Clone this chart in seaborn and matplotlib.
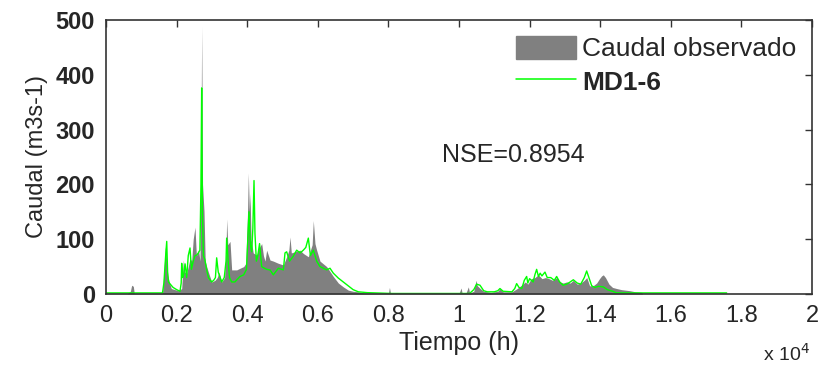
import numpy as np
import pandas as pd
import matplotlib
matplotlib.use("Agg")
import matplotlib.pyplot as plt
import seaborn as sns
from matplotlib.patches import Patch
from matplotlib.lines import Line2D

obs_time = [0, 600, 690, 727, 774, 800, 1600, 1640, 1680, 1720, 1750, 1800, 1850, 1950, 2050, 2100,
            2144, 2191, 2230, 2285, 2330, 2380, 2427, 2470, 2521, 2560, 2620, 2663, 2690, 2710, 2735,
            2776, 2810, 2852, 2900, 2993, 3088, 3150, 3200, 3277, 3360, 3400, 3418, 3450, 3513, 3560,
            3702, 3796, 3900, 3960, 4010, 4032, 4060, 4080, 4110, 4170, 4268, 4350, 4410, 4460, 4504,
            4551, 4646, 4740, 4882, 5024, 5118, 5180, 5213, 5250, 5401, 5496, 5590, 5732, 5840, 5873,
            5920, 5968, 6062, 6251, 6346, 6440, 6582, 6723, 6865, 7000, 7148, 7300, 7600, 8000, 8030,
            8060, 8500, 9100, 9130, 10000, 10060, 10090, 10200, 10265, 10300, 10420, 10482, 10520,
            10600, 10700, 10900, 11100, 11160, 11250, 11500, 11650, 11750, 11880, 11950, 12050, 12150,
            12250, 12350, 12450, 12550, 12650, 12770, 12870, 12950, 13050, 13150, 13240, 13350, 13450,
            13550, 13620, 13700, 13800, 13900, 13980, 14040, 14089, 14150, 14250, 14350, 14467, 14600,
            14844, 15000, 15175, 15200, 20000]
obs_flow = [0.5, 0.5, 5, 16, 14, 1, 1, 40, 86, 60, 34, 20, 10, 8, 6, 8,
            10, 62, 40, 38, 50, 65, 60, 100, 122, 70, 80, 60, 250, 489, 200,
            151, 60, 50, 40, 22, 25, 30, 40, 22, 30, 80, 137, 90, 96, 44,
            44, 47, 50, 56, 150, 221, 150, 184, 100, 75, 71, 85, 92, 70, 60,
            80, 62, 60, 56, 53, 68, 80, 104, 75, 78, 80, 74, 68, 90, 134,
            92, 80, 60, 50, 41, 32, 20, 13, 7, 5, 4, 2, 1.5, 1, 12,
            1, 1, 2, 1, 1, 11, 1, 2, 13, 2, 5, 25, 15,
            10, 5, 3, 5, 10, 4, 4, 10, 15, 22, 18, 28, 30,
            35, 28, 30, 28, 25, 30, 22, 20, 22, 20, 25, 18, 20,
            25, 30, 15, 15, 20, 28, 33, 35, 30, 18, 12, 10, 8,
            6, 4, 3, 0, 0]

# simulated discharge, model MD1-6
sim_time = [0, 1600, 1640, 1690, 1720, 1745, 1770, 1820, 1900, 2000, 2096, 2130, 2144, 2170, 2200,
            2240, 2285, 2330, 2380, 2420, 2470, 2521, 2569, 2616, 2660, 2690, 2710, 2730, 2760, 2800,
            2852, 2900, 2993, 3050, 3100, 3135, 3180, 3277, 3350, 3400, 3418, 3460, 3500, 3560, 3650,
            3796, 3900, 3980, 4050, 4090, 4127, 4160, 4193, 4220, 4260, 4300, 4350, 4410, 4460, 4551,
            4646, 4740, 4882, 5024, 5071, 5118, 5200, 5307, 5401, 5500, 5590, 5660, 5732, 5790, 5873,
            5968, 6062, 6251, 6346, 6440, 6582, 6723, 6865, 7000, 7148, 7400, 8100, 10300, 10420,
            10500, 10595, 10700, 10800, 11000, 11100, 11161, 11250, 11500, 11580, 11633, 11700, 11780,
            11850, 11917, 11950, 12000, 12100, 12150, 12200, 12250, 12300, 12350, 12436, 12500, 12600,
            12700, 12767, 12850, 12950, 13050, 13150, 13239, 13350, 13450, 13550, 13617, 13680, 13760,
            13850, 13950, 14089, 14200, 14350, 14467, 14600, 17583]
sim_flow = [2, 2, 20, 70, 96, 40, 22, 18, 12, 8, 5, 20, 56, 30, 35,
            55, 30, 70, 84, 45, 60, 70, 71, 75, 80, 200, 376, 150, 70, 63,
            44, 30, 22, 25, 30, 66, 40, 22, 30, 60, 102, 60, 30, 22, 22,
            32, 35, 45, 150, 90, 77, 120, 207, 110, 60, 70, 92, 50, 48, 45,
            44, 35, 47, 44, 75, 77, 60, 69, 80, 75, 80, 85, 102, 70, 80,
            60, 50, 44, 47, 38, 29, 22, 15, 8, 4, 2.5, 1, 1, 8,
            18, 16, 6, 4, 4, 6, 10, 5, 4, 10, 19, 12, 10,
            25, 32, 20, 28, 22, 35, 45, 32, 38, 33, 40, 30, 30,
            25, 32, 22, 16, 18, 22, 26, 20, 18, 30, 42, 30, 15,
            12, 14, 13, 8, 5, 2, 2, 2]

x_ticks = [0, 2000, 4000, 6000, 8000, 10000, 12000, 14000, 16000, 18000, 20000]
x_tick_labels = ["0", "0.2", "0.4", "0.6", "0.8", "1", "1.2", "1.4", "1.6", "1.8", "2"]
y_ticks = [0, 100, 200, 300, 400, 500]

sns.set_style("white")
plt.rcParams["font.family"] = ["Liberation Sans", "DejaVu Sans"]

df_obs = pd.DataFrame({"t": obs_time, "q": obs_flow})
df_sim = pd.DataFrame({"t": sim_time, "q": sim_flow})

fig = plt.figure(figsize=(8.25, 3.66), dpi=100)
ax = fig.add_axes([0.1285, 0.1967, 0.8557, 0.7487])

ax.fill_between(df_obs["t"], 0, df_obs["q"], color="#808080", lw=0)
sns.lineplot(data=df_sim, x="t", y="q", color="#00ff00", lw=1.0, sort=False, ax=ax)

ax.set_xlim(0, 20000)
ax.set_ylim(0, 500)
ax.set_xticks(x_ticks)
ax.set_xticklabels(x_tick_labels, fontsize=17)
ax.set_yticks(y_ticks)
ax.set_yticklabels([str(v) for v in y_ticks], fontsize=17, fontweight="bold")
ax.tick_params(direction="in", length=5, width=1, top=True, right=True, color="#333333")
ax.tick_params(axis="x", pad=8)
ax.tick_params(axis="y", pad=8)
for spine in ax.spines.values():
    spine.set_color("#333333")
    spine.set_linewidth(1.2)

ax.set_xlabel("Tiempo (h)", fontsize=18, labelpad=3)
ax.set_ylabel("Caudal (m3s-1)", fontsize=17, labelpad=5)

handles = [Patch(facecolor="#808080", edgecolor="#808080"),
           Line2D([0], [0], color="#00ff00", lw=1.1)]
leg = ax.legend(handles, ["Caudal observado", "MD1-6"], loc="upper right", frameon=False,
                fontsize=19, handlelength=2.27, handleheight=0.95, handletextpad=0.23,
                labelspacing=0.3, borderaxespad=0.2, borderpad=0.4)
leg.get_texts()[1].set_fontweight("bold")

ax.text(9518, 254, "NSE=0.8954", fontsize=18, va="center", ha="left")
fig.text(0.925, 0.033, r"x 10$^{4}$", fontsize=14, ha="left", va="center")

fig.savefig("out.png", dpi=100)
